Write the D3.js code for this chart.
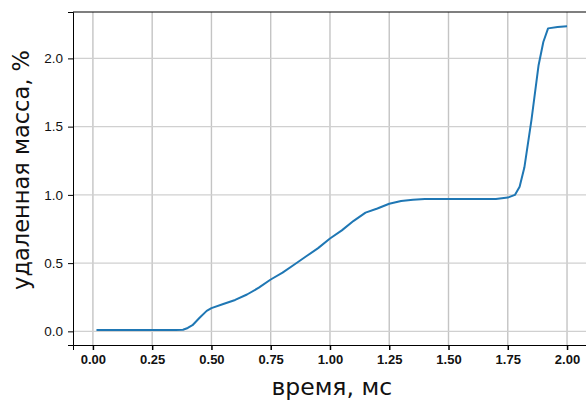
<!DOCTYPE html>
<html>
<head>
<meta charset="utf-8">
<script src="https://cdn.jsdelivr.net/npm/d3@7"></script>
<style>
  body { margin: 0; background: #fff; }
  svg { display: block; font-family: "DejaVu Sans", sans-serif; }
</style>
</head>
<body>
<div id="chart"></div>
<script>
// DATA
const timeMs = [0.015, 0.05, 0.1, 0.15, 0.2, 0.25, 0.3, 0.35, 0.38, 0.4, 0.42, 0.45, 0.48, 0.5,
  0.55, 0.6, 0.65, 0.7, 0.75, 0.8, 0.85, 0.9, 0.95, 1.0, 1.05, 1.1, 1.15, 1.2, 1.25, 1.3,
  1.35, 1.4, 1.5, 1.6, 1.7, 1.75, 1.78, 1.8, 1.82, 1.85, 1.88, 1.9, 1.92, 1.96, 2.0];
const removedMass = [0.01, 0.01, 0.01, 0.01, 0.01, 0.01, 0.01, 0.01, 0.012, 0.025, 0.045, 0.1, 0.15, 0.17,
  0.2, 0.23, 0.27, 0.32, 0.38, 0.43, 0.49, 0.55, 0.61, 0.68, 0.74, 0.81, 0.87, 0.9, 0.935, 0.955,
  0.965, 0.97, 0.97, 0.97, 0.97, 0.98, 1.0, 1.06, 1.2, 1.55, 1.95, 2.12, 2.22, 2.23, 2.235];
const xTicks = [0, 0.25, 0.5, 0.75, 1.0, 1.25, 1.5, 1.75, 2.0];
const yTicks = [0, 0.5, 1.0, 1.5, 2.0];
const xLabel = "время, мс";
const yLabel = "удаленная масса, %";

const data = timeMs.map((t, i) => ({ t: t, m: removedMass[i] }));

function render() {
  const width  = 586;
  const height = 400;
  const plot   = { left: 73, right: 590.5, top: 12, bottom: 345 };

  const svg = d3.select('#chart').append('svg')
    .attr('width', width)
    .attr('height', height);

  const x = d3.scaleLinear().domain([-0.084, 2.099]).range([plot.left, plot.right]);
  const y = d3.scaleLinear().domain([-0.1, 2.34]).range([plot.bottom, plot.top]);

  // grid
  const grid = svg.append('g').attr('class', 'grid');
  grid.selectAll('line.gx')
    .data(xTicks)
    .enter().append('line')
      .attr('class', 'gx')
      .attr('x1', d => x(d)).attr('x2', d => x(d))
      .attr('y1', plot.top).attr('y2', plot.bottom)
      .attr('stroke', '#c4c4c4').attr('stroke-width', 1.4);
  grid.selectAll('line.gy')
    .data(yTicks)
    .enter().append('line')
      .attr('class', 'gy')
      .attr('x1', plot.left).attr('x2', plot.right)
      .attr('y1', d => y(d)).attr('y2', d => y(d))
      .attr('stroke', '#d0d0d0').attr('stroke-width', 1.4);

  // line
  const line = d3.line().x(d => x(d.t)).y(d => y(d.m));
  svg.append('path')
    .datum(data)
    .attr('d', line)
    .attr('fill', 'none')
    .attr('stroke', '#1f77b4')
    .attr('stroke-width', 2)
    .attr('stroke-linejoin', 'round');

  // axes
  const xAxis = svg.append('g')
    .attr('transform', `translate(0,${plot.bottom})`)
    .call(d3.axisBottom(x).tickValues(xTicks).tickFormat(d3.format('.2f')).tickSizeOuter(0).tickSize(5).tickPadding(5));
  xAxis.select('.domain').attr('stroke', '#000');
  xAxis.selectAll('.tick line').attr('stroke', '#000').attr('stroke-width', 1.5);
  xAxis.selectAll('text').attr('font-size', 13).attr('font-weight', 'bold').attr('fill', '#111');

  const yAxis = svg.append('g')
    .attr('transform', `translate(${plot.left},0)`)
    .call(d3.axisLeft(y).tickValues(yTicks).tickFormat(d3.format('.1f')).tickSizeOuter(0).tickSize(5).tickPadding(5));
  yAxis.select('.domain').attr('stroke', '#000');
  yAxis.selectAll('.tick line').attr('stroke', '#000');
  yAxis.selectAll('text').attr('font-size', 13.5).attr('fill', '#111');

  // top spine
  svg.append('line')
    .attr('x1', plot.left).attr('x2', plot.right)
    .attr('y1', plot.top).attr('y2', plot.top)
    .attr('stroke', '#000').attr('stroke-width', 1.2);

  // labels
  svg.append('text')
    .attr('x', (plot.left + plot.right) / 2)
    .attr('y', 395)
    .attr('text-anchor', 'middle')
    .attr('font-size', 23.5)
    .attr('fill', '#111')
    .text(xLabel);

  svg.append('text')
    .attr('transform', `translate(29,170) rotate(-90)`)
    .attr('text-anchor', 'middle')
    .attr('font-size', 22.5)
    .attr('fill', '#111')
    .text(yLabel);
}

render();
</script>
</body>
</html>
